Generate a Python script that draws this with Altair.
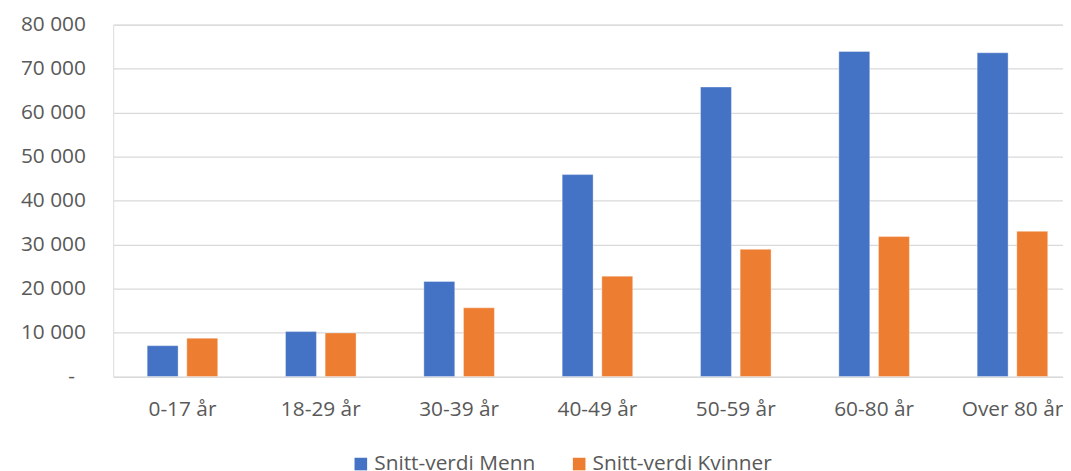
import altair as alt
import pandas as pd

categories = ["0-17 år", "18-29 år", "30-39 år", "40-49 år", "50-59 år", "60-80 år", "Over 80 år"]
series = ["Snitt-verdi Menn", "Snitt-verdi Kvinner"]
menn = [7000, 10200, 21600, 45900, 65800, 73900, 73600]
kvinner = [8700, 9900, 15600, 22800, 28900, 31800, 33000]
y_ticks = [0, 10000, 20000, 30000, 40000, 50000, 60000, 70000, 80000]
colors = ["#4472C4", "#ED7D31"]

rows = []
for c, m, k in zip(categories, menn, kvinner):
    rows.append({"cat": c, "series": series[0], "value": m})
    rows.append({"cat": c, "series": series[1], "value": k})
df = pd.DataFrame(rows)

FONT = "Open Sans"
TXT = "#595959"

chart = alt.Chart(df).mark_bar(stroke="white", strokeWidth=0.6, strokeOpacity=0.6).encode(
    x=alt.X("cat:N", sort=categories, title=None,
            scale=alt.Scale(paddingInner=0.49, paddingOuter=0.178, align=0.69),
            axis=alt.Axis(labelAngle=0, ticks=False, domain=False, grid=False,
                          labelFont=FONT, labelFontSize=21, labelColor=TXT,
                          labelPadding=22, labelLimit=300)),
    xOffset=alt.XOffset("series:N", sort=series,
                        scale=alt.Scale(paddingInner=0.22, paddingOuter=0)),
    y=alt.Y("value:Q", title=None,
            scale=alt.Scale(domain=[0, 80000], nice=False, zero=True),
            axis=alt.Axis(values=y_ticks, ticks=False, domain=False, grid=True,
                          gridColor="#d9d9d9", gridWidth=1.3,
                          labelFont=FONT, labelFontSize=21, labelColor=TXT,
                          labelPadding={"condition": {"test": "datum.value === 0", "value": 39}, "value": 28},
                          labelExpr="datum.value == 0 ? '-' : replace(format(datum.value, ','), ',', ' ')")),
    color=alt.Color("series:N", sort=series, title=None,
                    scale=alt.Scale(domain=series, range=colors),
                    legend=alt.Legend(orient="none", legendX=239, legendY=432,
                                      direction="horizontal", symbolType="square",
                                      symbolSize=161, symbolStrokeWidth=0,
                                      labelFont=FONT, labelFontSize=21, labelColor=TXT,
                                      labelOffset=3, columnPadding=33, labelLimit=400,
                                      padding=0)),
).properties(
    width=957,
    height=354.5,
    autosize=alt.AutoSizeParams(type="none"),
    padding={"left": 106, "top": 15, "right": 0, "bottom": 93},
).configure_view(stroke=None).configure(background="white")

chart.save("out.html", embed_options={"renderer": "svg", "actions": False})
